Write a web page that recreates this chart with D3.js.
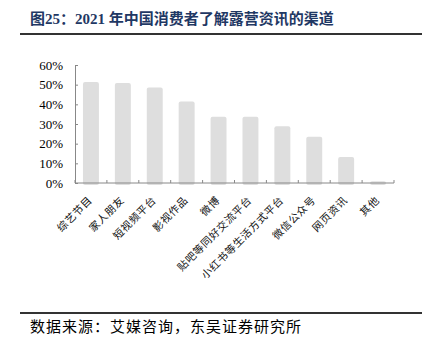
<!DOCTYPE html>
<html>
<head>
<meta charset="utf-8">
<script src="https://cdn.jsdelivr.net/npm/d3@7"></script>
<style>
  body { margin: 0; background: #fff; }
  svg { display: block; }
</style>
</head>
<body>
<svg id="chart"></svg>
<script>
// data
const categories = ["综艺节目", "家人朋友", "短视频平台", "影视作品", "微博",
  "贴吧等同好交流平台", "小红书等生活方式平台", "微信公众号", "网页资讯", "其他"];
const shares = [0.514, 0.508, 0.485, 0.415, 0.337, 0.337, 0.288, 0.235, 0.132, 0.009];
const yTicks = [0, 0.1, 0.2, 0.3, 0.4, 0.5, 0.6];

const width = 429, height = 351;
const margin = { top: 65, right: 35, bottom: 168, left: 75 };

const svg = d3.select("#chart")
    .attr("width", width)
    .attr("height", height);

// title + rule
svg.append("text")
    .attr("x", 30)
    .attr("y", 24)
    .attr("fill", "#1f3864")
    .style("font-family", "'Liberation Serif', 'Noto Sans CJK SC', serif")
    .style("font-weight", "bold")
    .style("font-size", "15px")
    .text("图25：2021 年中国消费者了解露营资讯的渠道");

svg.append("line")
    .attr("x1", 20).attr("x2", 422)
    .attr("y1", 34).attr("y2", 34)
    .attr("stroke", "#333")
    .attr("stroke-width", 2);

const innerW = width - margin.left - margin.right;
const innerH = height - margin.top - margin.bottom;

const chart = svg.append("g")
    .attr("transform", `translate(${margin.left},${margin.top})`);

const xScale = d3.scaleBand()
    .domain(categories)
    .range([0, innerW])
    .paddingInner(0.5)
    .paddingOuter(0.25);

const yScale = d3.scaleLinear()
    .domain([0, 0.6])
    .range([innerH, 0]);

// bars
chart.selectAll(".bar")
    .data(categories)
  .enter().append("rect")
    .attr("class", "bar")
    .attr("x", d => xScale(d))
    .attr("y", (d, i) => yScale(shares[i]))
    .attr("width", xScale.bandwidth())
    .attr("height", (d, i) => innerH - yScale(shares[i]) + 2)
    .attr("rx", 2)
    .attr("fill", "#dedede");

// y axis
const yAxis = d3.axisLeft(yScale)
    .tickValues(yTicks)
    .tickFormat(d3.format(".0%"))
    .tickSizeInner(-3)
    .tickSizeOuter(-3)
    .tickPadding(12);

const yAxisG = chart.append("g").call(yAxis);
yAxisG.select(".domain").attr("stroke", "#888");
yAxisG.selectAll(".tick line").attr("stroke", "#888");
yAxisG.selectAll("text")
    .style("font-family", "'Liberation Serif', serif")
    .style("font-size", "13px")
    .attr("fill", "#000");

// x axis: ticks at band boundaries
const xAxisG = chart.append("g")
    .attr("transform", `translate(0,${innerH})`);

xAxisG.append("line")
    .attr("x1", 0).attr("x2", innerW)
    .attr("stroke", "#888");

xAxisG.selectAll(".xtick")
    .data(d3.range(categories.length + 1))
  .enter().append("line")
    .attr("class", "xtick")
    .attr("x1", i => i * innerW / categories.length)
    .attr("x2", i => i * innerW / categories.length)
    .attr("y1", 0).attr("y2", -3)
    .attr("stroke", "#888");

xAxisG.selectAll(".xlabel")
    .data(categories)
  .enter().append("text")
    .attr("class", "xlabel")
    .attr("transform", d => `translate(${xScale(d) + xScale.bandwidth() / 2 + 2},${18}) rotate(-45)`)
    .attr("text-anchor", "end")
    .style("font-family", "'Noto Sans CJK SC', sans-serif")
    .style("font-size", "10.5px")
    .style("letter-spacing", "0.6px")
    .attr("fill", "#111")
    .text(d => d);

// footer
svg.append("line")
    .attr("x1", 20).attr("x2", 422)
    .attr("y1", 313).attr("y2", 313)
    .attr("stroke", "#333")
    .attr("stroke-width", 2);

svg.append("text")
    .attr("x", 30)
    .attr("y", 332)
    .attr("fill", "#000")
    .style("font-family", "'Noto Sans CJK SC', sans-serif")
    .style("font-size", "15px")
    .style("letter-spacing", "1px")
    .text("数据来源：艾媒咨询，东吴证券研究所");
</script>
</body>
</html>
